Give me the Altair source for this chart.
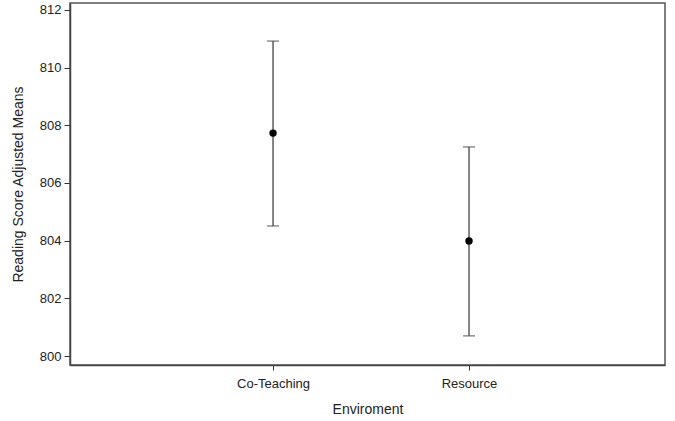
import altair as alt
import pandas as pd

groups = ["Co-Teaching", "Resource"]
positions = [1, 2]
means = [807.73, 803.99]
lower = [804.51, 800.70]
upper = [810.92, 807.25]

df = pd.DataFrame({"group": groups, "pos": positions, "mean": means, "lo": lower, "hi": upper})

font = "Liberation Sans"
xscale = alt.Scale(domain=[-0.036, 3.0], nice=False, zero=False)
yscale = alt.Scale(domain=[799.69, 812.24], nice=False, zero=False)

xenc = alt.X("pos:Q", scale=xscale, title="Enviroment",
             axis=alt.Axis(values=positions, grid=False,
                           labelExpr="datum.value == 1 ? 'Co-Teaching' : (datum.value == 2 ? 'Resource' : '')",
                           labelFont=font, labelFontSize=13, labelColor="#222",
                           titleFont=font, titleFontSize=14, titleFontWeight="normal", titleColor="#222",
                           tickSize=5, tickColor="#333", domainColor="#444", domainWidth=1.5,
                           labelPadding=7, titlePadding=12))
yaxis = alt.Axis(values=[800, 802, 804, 806, 808, 810, 812], grid=False,
                 labelFont=font, labelFontSize=13, labelColor="#222",
                 titleFont=font, titleFontSize=14, titleFontWeight="normal", titleColor="#222",
                 tickSize=6, tickColor="#333", domainColor="#444", domainWidth=1.5,
                 labelPadding=3, titlePadding=14)

base = alt.Chart(df)
rules = base.mark_rule(color="#444", strokeWidth=1.3).encode(
    x=xenc,
    y=alt.Y("lo:Q", scale=yscale, axis=yaxis, title="Reading Score Adjusted Means"),
    y2="hi:Q",
)
cap_lo = base.mark_tick(color="#444", orient="horizontal", size=12, thickness=1.3).encode(
    x="pos:Q", y="lo:Q")
cap_hi = base.mark_tick(color="#444", orient="horizontal", size=12, thickness=1.3).encode(
    x="pos:Q", y="hi:Q")
pts = base.mark_point(filled=True, color="black", size=55, opacity=1).encode(
    x="pos:Q", y="mean:Q")

chart = alt.layer(rules, cap_lo, cap_hi, pts).properties(
    width=595, height=362,
    autosize=alt.AutoSizeParams(type="none"),
    padding={"left": 70, "top": 3, "right": 10, "bottom": 56},
    background="white",
).configure_view(stroke="#555", strokeWidth=1.5)

chart.save("out.html", embed_options={"renderer": "svg", "actions": False})
